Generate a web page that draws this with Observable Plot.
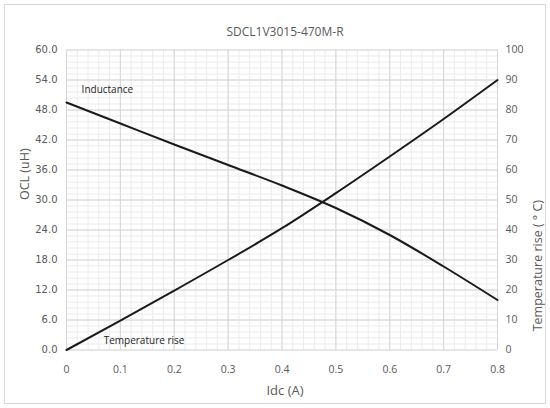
<!DOCTYPE html>
<html>
<head>
<meta charset="utf-8">
<script src="https://cdn.jsdelivr.net/npm/d3@7"></script>
<script src="https://cdn.jsdelivr.net/npm/@observablehq/plot@0.6"></script>
<style>
  html, body { margin: 0; padding: 0; background: #fff; }
  #chart svg { display: block; outline: 1px solid #d9d9d9; outline-offset: -5px; }
</style>
</head>
<body>
<div id="chart"></div>
<script>
const title = "SDCL1V3015-470M-R";
const idc = [0, 0.1, 0.2, 0.3, 0.4, 0.5, 0.6, 0.7, 0.8];
const ocl = [49.5, 45.3, 41.1, 37.0, 32.9, 28.4, 23.0, 16.7, 10.0];
const tempRise = [0, 9.8, 19.8, 30.0, 40.6, 52.3, 64.5, 77.0, 90.0];
const xTicks = [0, 0.1, 0.2, 0.3, 0.4, 0.5, 0.6, 0.7, 0.8];
const oclTicks = [0, 6, 12, 18, 24, 30, 36, 42, 48, 54, 60];
const tempTicks = [0, 10, 20, 30, 40, 50, 60, 70, 80, 90, 100];

const oclMax = 60, tempMax = 100;
const k = oclMax / tempMax; // map temperature onto OCL scale

const oclData = idc.map((x, i) => ({x, y: ocl[i]}));
const tempData = idc.map((x, i) => ({x, y: tempRise[i] * k}));

const xMinor = d3.range(0, 0.8001, 0.02);
const yMinor = d3.range(0, 60.001, 1.2);

const txt = "#595959";
const chart = Plot.plot({
  width: 550,
  height: 408,
  marginLeft: 66,
  marginRight: 53,
  marginTop: 49.5,
  marginBottom: 58.5,
  style: {fontFamily: "'Open Sans', sans-serif", color: txt, background: "#fff"},
  x: {domain: [0, 0.8]},
  y: {domain: [0, 60]},
  marks: [
    Plot.gridX(xMinor, {stroke: "#ebebeb", strokeOpacity: 1}),
    Plot.gridY(yMinor, {stroke: "#ebebeb", strokeOpacity: 1}),
    Plot.gridX(xTicks, {stroke: "#d6d6d6", strokeOpacity: 1}),
    Plot.gridY(oclTicks, {stroke: "#d6d6d6", strokeOpacity: 1}),
    Plot.axisX({ticks: xTicks, tickSize: 0, tickPadding: 16, label: null,
      tickFormat: d => d === 0 ? "0" : d3.format(".1f")(d), fontSize: 10.5, fill: txt}),
    Plot.axisY({ticks: oclTicks, tickSize: 0, tickPadding: 9, label: null,
      tickFormat: d => d.toFixed(1), fontSize: 10, fill: txt, fontFamily: "'DejaVu Sans', sans-serif"}),
    Plot.axisY({anchor: "right", ticks: tempTicks.map(t => t * k), tickSize: 0, tickPadding: 8, label: null,
      tickFormat: d => String(Math.round(d / k)), fontSize: 10.5, fill: txt}),
    Plot.line(oclData, {x: "x", y: "y", stroke: "#1a1a1a", strokeWidth: 2, curve: "monotone-x"}),
    Plot.line(tempData, {x: "x", y: "y", stroke: "#1a1a1a", strokeWidth: 2, curve: "monotone-x"}),
    Plot.text(["Inductance"], {x: 0.028, y: 52.0, text: d => d, textAnchor: "start", fontSize: 10, fill: "#222"}),
    Plot.text(["Temperature rise"], {x: 0.069, y: 1.9, text: d => d, textAnchor: "start", fontSize: 10, fill: "#222"}),
    Plot.text([title], {frameAnchor: "top", dx: 3, dy: -22.5, text: d => d, fontSize: 12, fill: txt}),
    Plot.text(["Idc (A)"], {frameAnchor: "bottom", dx: 3, dy: 45, text: d => d, fontSize: 13, fill: txt}),
    Plot.text(["OCL (uH)"], {frameAnchor: "left", dx: -42, rotate: -90, text: d => d, fontSize: 12.5, fill: txt}),
    Plot.text(["Temperature rise ( ° C)"], {frameAnchor: "right", dx: 40, rotate: -90, text: d => d, fontSize: 12.5, fill: txt})
  ]
});
document.getElementById("chart").append(chart);
</script>
</body>
</html>
